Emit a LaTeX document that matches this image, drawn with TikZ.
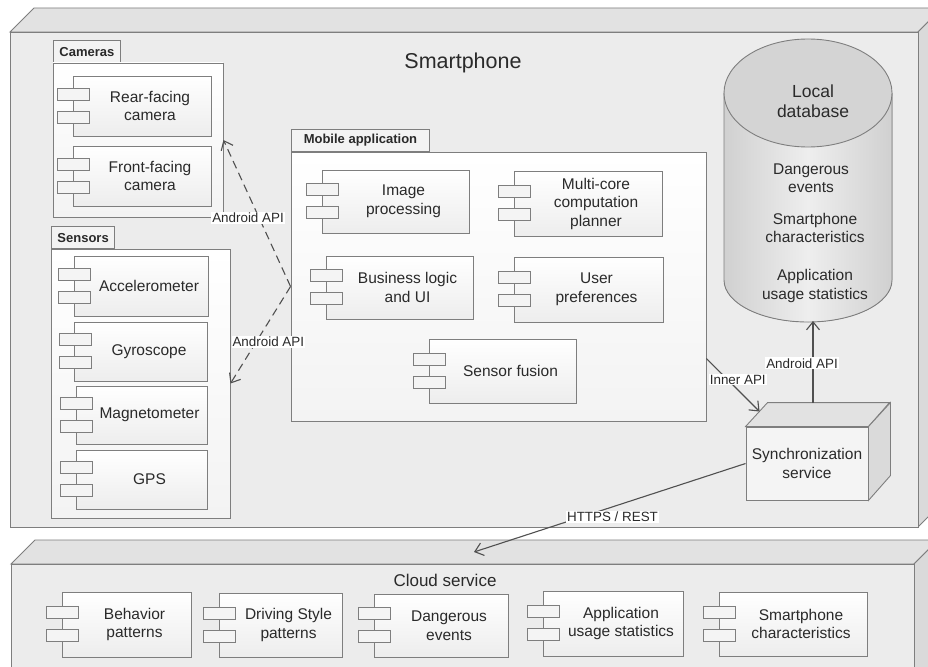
\documentclass[tikz,border=0pt]{standalone}
\usepackage{fontspec}
\setmainfont{Liberation Sans}
\usetikzlibrary{arrows.meta, positioning, calc}

\definecolor{edgegray}{HTML}{7E7E7E}
\definecolor{txtgray}{HTML}{2A2A2A}
\definecolor{arrgray}{HTML}{505050}
\definecolor{phonefront}{HTML}{ECECEC}
\definecolor{phonetop}{HTML}{E2E2E2}
\definecolor{phoneside}{HTML}{DADADA}
\definecolor{compbot}{HTML}{EDEDED}
\definecolor{pkgbot}{HTML}{F3F3F3}
\definecolor{dbtop}{HTML}{D4D4D4}
\definecolor{dbdark}{HTML}{D0D0D0}
\definecolor{dblight}{HTML}{EEEEEE}

\begin{document}
\begin{tikzpicture}[x=1pt, y=-1pt,
    face/.style={draw=edgegray, line width=0.9pt},
    comp/.style={face, top color=white, bottom color=compbot, inner sep=0pt},
    port/.style={face, fill=compbot!60!white},
    pkg/.style={face, top color=white, bottom color=pkgbot, inner sep=0pt},
    pkgtab/.style={face, fill=pkgbot, inner xsep=6pt, minimum height=22pt,
        font=\fontsize{13}{15}\selectfont\bfseries, text=txtgray},
    ctext/.style={font=\fontsize{15.5}{18.5}\selectfont, align=center, text=txtgray},
    elabel/.style={fill=white, inner sep=1pt, font=\fontsize{13.4}{15}\selectfont, text=txtgray},
    arr/.style={draw=arrgray, line width=1.1pt, -{Straight Barb[length=8pt, width=13pt]}},
    dasharr/.style={arr, dash pattern=on 8pt off 5pt}]
    \clip (0,0) rectangle (928,666);
    \fill[white] (0,0) rectangle (928,666);

    % Smartphone node (3D box)
    \filldraw[face, fill=phonetop] (10,32) -- (34,8) -- (942,8) -- (918,32) -- cycle;
    \filldraw[face, fill=phoneside] (918,32) -- (942,8) -- (942,503) -- (918,527) -- cycle;
    \node[face, fill=phonefront, minimum width=908, minimum height=495] (phone) at (464,279.5) {};
    \node[ctext, font=\fontsize{21.5}{24}\selectfont] (phonetitle) at (463,63) {Smartphone};

    % Cloud service node (3D box)
    \filldraw[face, fill=phonetop] (11,564) -- (35,540) -- (938,540) -- (914,564) -- cycle;
    \filldraw[face, fill=phoneside] (914,564) -- (938,540) -- (938,676) -- (914,700) -- cycle;
    \node[face, fill=phonefront, minimum width=903, minimum height=136] (cloud) at (462.5,632) {};
    \node[ctext, font=\fontsize{17}{20}\selectfont] (cloudtitle) at (445,580) {Cloud service};
    \coordinate (cloudin) at (474,552);

    % packages
    \node[pkgtab, anchor=south west] (camtab) at (53,63) {Cameras};
    \node[pkg, minimum width=170, minimum height=154] (cams) at (138,140) {};
    \node[pkgtab, anchor=south west] (senstab) at (51,249) {Sensors};
    \node[pkg, minimum width=179, minimum height=269] (sens) at (140.5,383.5) {};
    \node[pkgtab, anchor=south west, minimum width=138] (apptab) at (291,152) {Mobile application};
    \node[pkg, minimum width=415, minimum height=269] (app) at (498.5,286.5) {};

    % components
    \foreach \nm/\cx/\cy/\w/\h/\txt in {
        rear/142/106/138/60/{Rear-facing\\camera},
        front/142/176/138/60/{Front-facing\\camera},
        acc/141/286/134/60/{Accelerometer},
        gyro/141/351.5/133/59/{Gyroscope},
        mag/141.5/415/131/58/{Magnetometer},
        gps/141.5/479.5/131/59/{GPS},
        img/395.5/201.5/147/63/{Image\\processing},
        multi/588/203.5/148/65/{Multi-core\\computation\\planner},
        biz/399.5/287.5/147/63/{Business logic\\and UI},
        user/588.5/289.5/149/65/{User\\preferences},
        fusion/502.5/371/147/64/{Sensor fusion},
        behav/126.5/624.5/129/65/{Behavior\\patterns},
        drive/280.5/625/123/64/{Driving Style\\patterns},
        dang/441/625.5/134/63/{Dangerous\\events},
        appus/613/623.5/140/65/{Application\\usage statistics},
        smchar/793/624/148/64/{Smartphone\\characteristics}} {
        \node[comp, minimum width=\w, minimum height=\h] (\nm) at (\cx,\cy) {};
        \draw[port] ($(\nm.west)+(-15,-18)$) rectangle ++(32,12);
        \draw[port] ($(\nm.west)+(-15,5)$) rectangle ++(32,12);
        \node[ctext] (\nm-txt) at ([xshift=8pt]\nm.center) {\txt};
    }

    % local database
    \fill[left color=dbdark, right color=dbdark, middle color=dblight]
        (724,93) -- (724,280) arc[start angle=180, end angle=360, x radius=84pt, y radius=42pt] -- (892,93) -- cycle;
    \draw[face] (724,93) -- (724,280) arc[start angle=180, end angle=360, x radius=84pt, y radius=42pt] -- (892,93);
    \filldraw[face, fill=dbtop] (808,93) ellipse[x radius=84pt, y radius=54pt];
    \node[ctext, font=\fontsize{17.5}{20}\selectfont] (db) at (813,101) {Local\\database};
    \node[ctext] (dbev) at (811,178) {Dangerous\\events};
    \node[ctext] (dbchar) at (815,228) {Smartphone\\characteristics};
    \node[ctext] (dbstat) at (815,286) {Application\\usage statistics};
    \coordinate (dbbot) at (813,321);

    % synchronization service (3D box)
    \node[face, fill=phonefront!60!white, minimum width=122, minimum height=73, ctext] (sync) at (807,463.5) {Synchronization\\service};
    \filldraw[face, fill=phonetop] (sync.north west) -- ++(22,-24) -- ++(122,0) -- (sync.north east) -- cycle;
    \filldraw[face, fill=phoneside] (sync.north east) -- ++(22,-24) -- ++(0,73) -- (sync.south east) -- cycle;
    \coordinate (synctop) at ($(sync.north)+(6,-24)$);

    % connectors
    \draw[dasharr] (app.west) -- node[elabel, pos=.47, xshift=-11pt] (api1) {Android API} (cams.east);
    \draw[dasharr] (app.west) -- node[elabel, pos=.57, xshift=12pt] (api2) {Android API} (sens.east);
    \draw[arr] ([yshift=-72pt]app.east) -- node[elabel, pos=.59, yshift=10pt] (innerlbl) {Inner API} ($(sync.north west)+(14,-15)$);
    \draw[arr] (synctop) -- node[elabel, pos=.48, xshift=-11pt] (api3) {Android API} (dbbot);
    \draw[arr] (sync.west) -- node[elabel, pos=.49, yshift=-10pt] (httplbl) {HTTPS / REST} (cloudin);
\end{tikzpicture}
\end{document}
